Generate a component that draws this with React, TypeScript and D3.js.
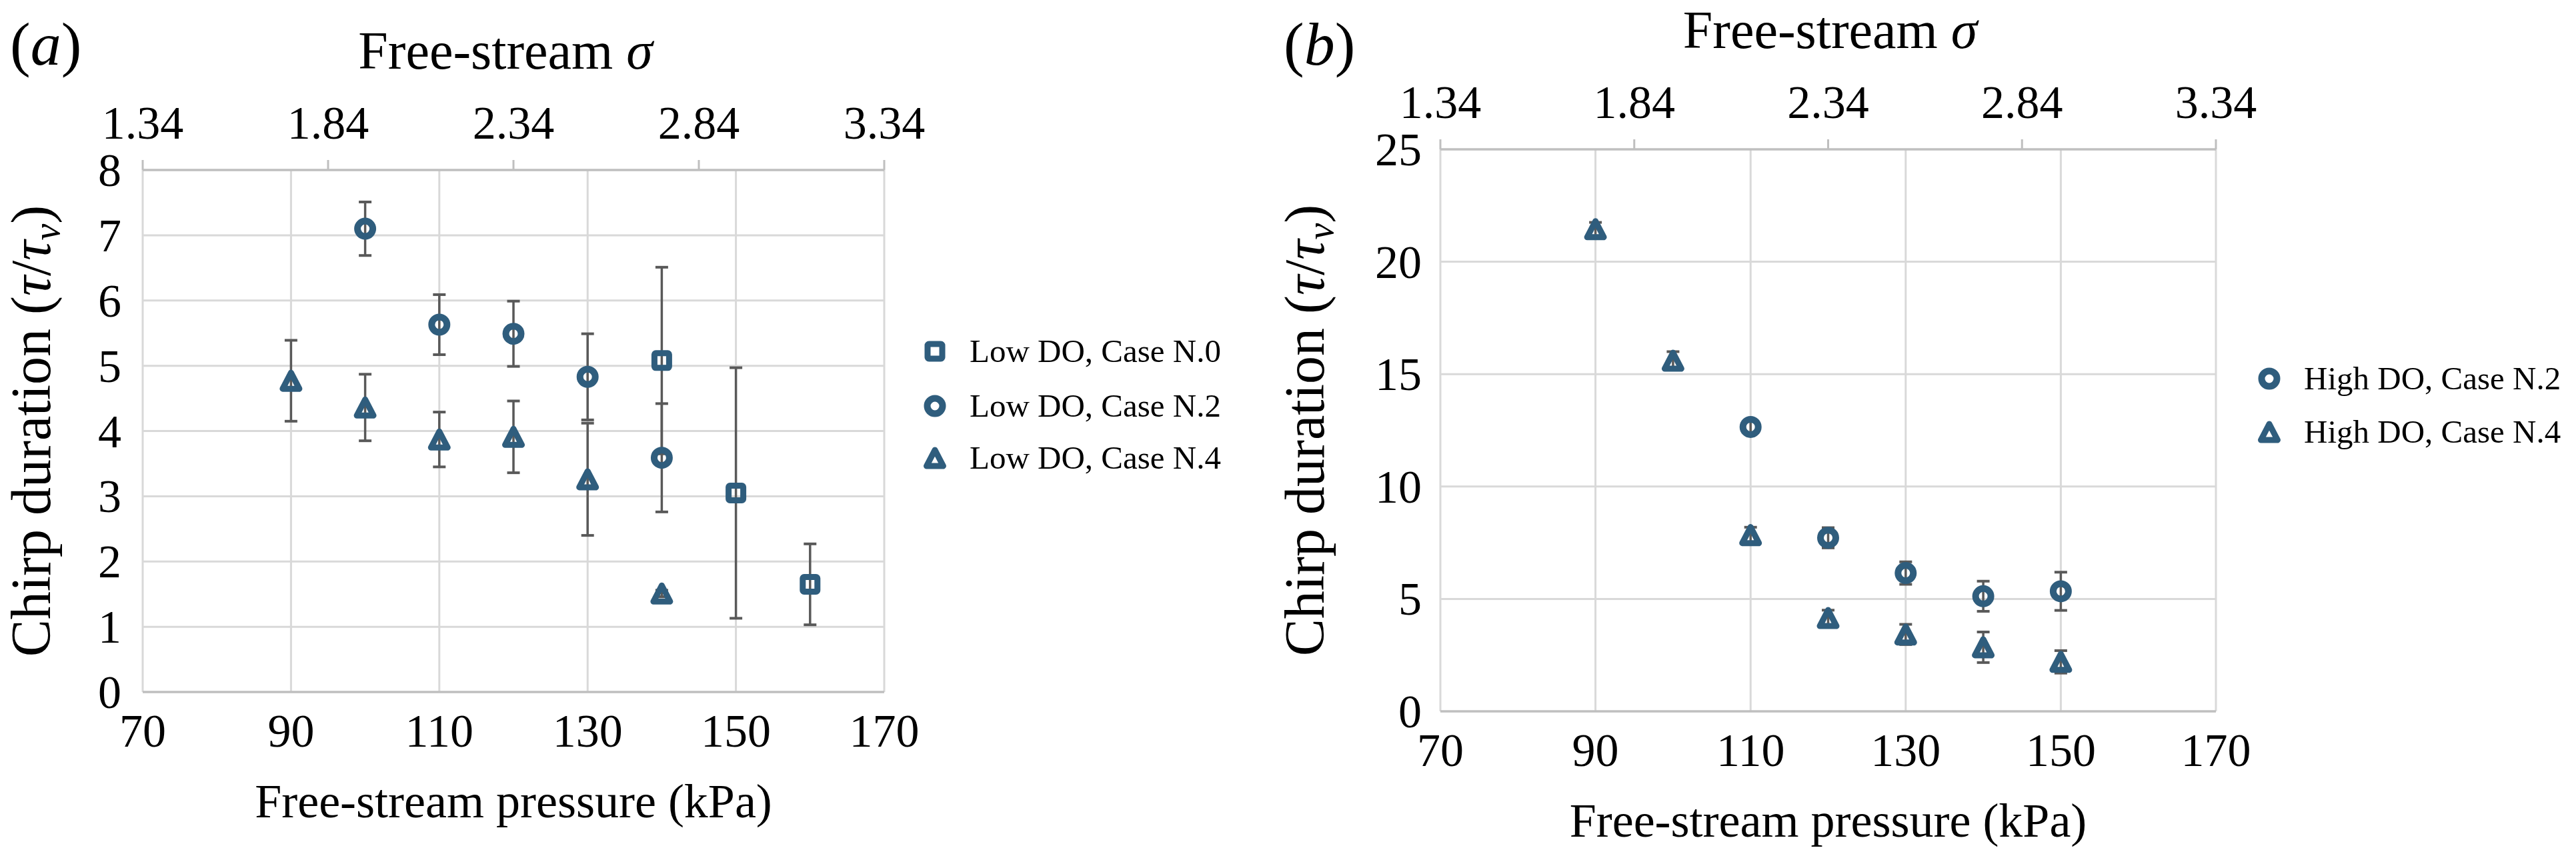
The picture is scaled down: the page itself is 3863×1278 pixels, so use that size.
import React from "react"
import * as d3 from "d3"

// ---- data ----
const sigmaTicks = [1.34, 1.84, 2.34, 2.84, 3.34]
const pressureTicks = [70, 90, 110, 130, 150, 170]

// panel (a) — low DO
const lowN0Pressure = [140, 150, 160]
const lowN0Value = [5.08, 3.05, 1.65]
const lowN0Err = [1.43, 1.92, 0.62]

const lowN2Pressure = [100, 110, 120, 130, 140]
const lowN2Value = [7.1, 5.63, 5.49, 4.83, 3.59]
const lowN2Err = [0.41, 0.46, 0.5, 0.66, 0.83]

const lowN4Pressure = [90, 100, 110, 120, 130, 140]
const lowN4Value = [4.77, 4.36, 3.87, 3.91, 3.26, 1.51]
const lowN4Err = [0.62, 0.51, 0.42, 0.55, 0.86, 0.05]

const lowYTicks = [0, 1, 2, 3, 4, 5, 6, 7, 8]

// panel (b) — high DO
const highN2Pressure = [110, 120, 130, 140, 150]
const highN2Value = [12.65, 7.72, 6.15, 5.12, 5.34]
const highN2Err = [0.3, 0.45, 0.5, 0.67, 0.85]

const highN4Pressure = [90, 100, 110, 120, 130, 140, 150]
const highN4Value = [21.45, 15.6, 7.84, 4.15, 3.42, 2.85, 2.2]
const highN4Err = [0.3, 0.4, 0.35, 0.35, 0.45, 0.68, 0.5]

const highYTicks = [0, 5, 10, 15, 20, 25]

const FONT = "'Liberation Serif', 'DejaVu Serif', serif"
const MARK = "#2f5d7d"
const ERR = "#595959"
const GRID = "#d9d9d9"
const AXIS = "#bfbfbf"

type Shape = "square" | "circle" | "triangle"

interface Series {
  name: string
  shape: Shape
  pressure: number[]
  value: number[]
  err: number[]
}

function Marker({ shape, x, y }: { shape: Shape; x: number; y: number }) {
  if (shape === "circle")
    return <circle cx={x} cy={y} r={11.5} fill="none" stroke={MARK} strokeWidth={10} />
  if (shape === "square")
    return (
      <rect x={x - 11} y={y - 11} width={22} height={22} rx={2}
        fill="none" stroke={MARK} strokeWidth={9} />
    )
  const p = `M${x},${y - 12}L${x + 12.5},${y + 12}L${x - 12.5},${y + 12}Z`
  return <path d={p} fill="none" stroke={MARK} strokeWidth={9} strokeLinejoin="round" />
}

interface PanelProps {
  tag: string
  left: number
  right: number
  top: number
  bottom: number
  yTicks: number[]
  yTickRight: number
  yTitleX: number
  labelX: number
  titleDx: number
  legendX: number
  legendY: number[]
  series: Series[]
}

function Panel(p: PanelProps) {
  const x = d3.scaleLinear().domain([70, 170]).range([p.left, p.right])
  const sx = d3.scaleLinear().domain([1.34, 3.34]).range([p.left, p.right])
  const yMax = p.yTicks[p.yTicks.length - 1]
  const y = d3.scaleLinear().domain([0, yMax]).range([p.bottom, p.top])
  const cx = (p.left + p.right) / 2
  const cy = (p.top + p.bottom) / 2

  return (
    <g fontFamily={FONT} fill="#000">
      {/* panel tag */}
      <text x={p.labelX} y={97} fontSize={92}>
        (<tspan fontStyle="italic">{p.tag}</tspan>)
      </text>

      {/* grid */}
      {p.yTicks.slice(1, -1).map((t) => (
        <line key={"gy" + t} x1={p.left} x2={p.right} y1={y(t)} y2={y(t)} stroke={GRID} strokeWidth={3} />
      ))}
      {pressureTicks.map((t) => (
        <line key={"gx" + t} x1={x(t)} x2={x(t)} y1={p.top} y2={p.bottom} stroke={GRID} strokeWidth={3} />
      ))}
      {/* top & bottom axes */}
      <line x1={p.left} x2={p.right} y1={p.top} y2={p.top} stroke={AXIS} strokeWidth={3.5} />
      <line x1={p.left} x2={p.right} y1={p.bottom} y2={p.bottom} stroke={AXIS} strokeWidth={3.5} />
      {sigmaTicks.map((t) => (
        <line key={"st" + t} x1={sx(t)} x2={sx(t)} y1={p.top - 15} y2={p.top} stroke={AXIS} strokeWidth={3} />
      ))}

      {/* tick labels */}
      {sigmaTicks.map((t) => (
        <text key={"sl" + t} x={sx(t)} y={p.top - 47} fontSize={70} textAnchor="middle">
          {t.toFixed(2)}
        </text>
      ))}
      {pressureTicks.map((t) => (
        <text key={"xl" + t} x={x(t)} y={p.bottom + 82} fontSize={70} textAnchor="middle">
          {t}
        </text>
      ))}
      {p.yTicks.map((t) => (
        <text key={"yl" + t} x={p.yTickRight} y={y(t) + 24} fontSize={70} textAnchor="end">
          {t}
        </text>
      ))}

      {/* titles */}
      <text x={cx + p.titleDx} y={p.top - 152} fontSize={80} textAnchor="middle">
        Free-stream <tspan fontStyle="italic">σ</tspan>
      </text>
      <text x={cx} y={p.bottom + 188} fontSize={72} textAnchor="middle">
        Free-stream pressure (kPa)
      </text>
      <text transform={`translate(${p.yTitleX},${cy}) rotate(-90)`} fontSize={84} textAnchor="middle">
        Chirp duration (<tspan fontStyle="italic">τ</tspan>/<tspan fontStyle="italic">τ</tspan>
        <tspan fontStyle="italic" fontSize={56} dy={14}>ν</tspan>
        <tspan dy={-14}>)</tspan>
      </text>

      {/* error bars */}
      {p.series.map((s) =>
        s.pressure.map((pr, i) => {
          const px = x(pr)
          const y0 = y(s.value[i] - s.err[i])
          const y1 = y(s.value[i] + s.err[i])
          return (
            <g key={s.name + "e" + i} stroke={ERR} strokeWidth={3.5}>
              <line x1={px} x2={px} y1={y0} y2={y1} />
              <line x1={px - 9.5} x2={px + 9.5} y1={y0} y2={y0} strokeWidth={4} />
              <line x1={px - 9.5} x2={px + 9.5} y1={y1} y2={y1} strokeWidth={4} />
            </g>
          )
        })
      )}

      {/* markers */}
      {p.series.map((s) =>
        s.pressure.map((pr, i) => (
          <Marker key={s.name + "m" + i} shape={s.shape} x={x(pr)} y={y(s.value[i])} />
        ))
      )}

      {/* legend */}
      {p.series.map((s, i) => (
        <g key={s.name + "lg"}>
          <Marker shape={s.shape} x={p.legendX} y={p.legendY[i]} />
          <text x={p.legendX + 52} y={p.legendY[i] + 16} fontSize={49}>
            {s.name}
          </text>
        </g>
      ))}
    </g>
  )
}

const lowSeries: Series[] = [
  { name: "Low DO, Case N.0", shape: "square", pressure: lowN0Pressure, value: lowN0Value, err: lowN0Err },
  { name: "Low DO, Case N.2", shape: "circle", pressure: lowN2Pressure, value: lowN2Value, err: lowN2Err },
  { name: "Low DO, Case N.4", shape: "triangle", pressure: lowN4Pressure, value: lowN4Value, err: lowN4Err },
]

const highSeries: Series[] = [
  { name: "High DO, Case N.2", shape: "circle", pressure: highN2Pressure, value: highN2Value, err: highN2Err },
  { name: "High DO, Case N.4", shape: "triangle", pressure: highN4Pressure, value: highN4Value, err: highN4Err },
]

export default function App() {
  return (
    <div style={{ position: "absolute", left: 0, top: 0, background: "#fff" }}>
      <svg width={3863} height={1278} style={{ display: "block" }}>
        <rect width={3863} height={1278} fill="#fff" />
        <Panel
          tag="a" left={214} right={1326} top={255} bottom={1038}
          yTicks={lowYTicks} yTickRight={182} yTitleX={75} labelX={15} titleDx={-12}
          legendX={1402} legendY={[527, 609, 687]} series={lowSeries}
        />
        <Panel
          tag="b" left={2160} right={3323} top={224} bottom={1067}
          yTicks={highYTicks} yTickRight={2132} yTitleX={1985} labelX={1925} titleDx={3}
          legendX={3403} legendY={[568, 648]} series={highSeries}
        />
      </svg>
    </div>
  )
}
